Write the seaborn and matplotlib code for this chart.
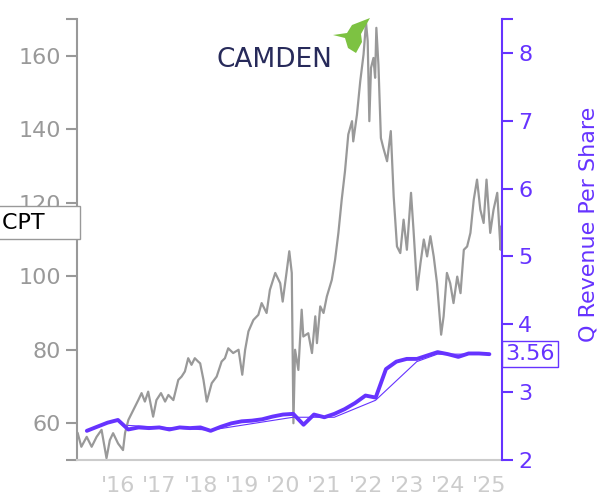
import matplotlib
matplotlib.use("Agg")
import matplotlib.pyplot as plt
from matplotlib.patches import Polygon
import seaborn as sns
import pandas as pd

# price (decimal year, close)
price_t = [2015.02, 2015.11, 2015.24, 2015.36, 2015.48, 2015.60, 2015.72, 2015.80, 2015.88, 2016.00,
           2016.12, 2016.17, 2016.25, 2016.37, 2016.49, 2016.57, 2016.65, 2016.73, 2016.85, 2016.93,
           2017.04, 2017.14, 2017.22, 2017.34, 2017.46, 2017.54, 2017.62, 2017.70, 2017.78, 2017.86,
           2017.94, 2017.99, 2018.07, 2018.15, 2018.27, 2018.39, 2018.51, 2018.59, 2018.67, 2018.79,
           2018.92, 2019.01, 2019.08, 2019.16, 2019.28, 2019.40, 2019.48, 2019.60, 2019.68, 2019.81,
           2019.93, 2019.99, 2020.07, 2020.15, 2020.21, 2020.25, 2020.29, 2020.37, 2020.45, 2020.49,
           2020.61, 2020.70, 2020.78, 2020.82, 2020.90, 2020.98, 2021.06, 2021.18, 2021.26, 2021.34,
           2021.42, 2021.50, 2021.58, 2021.67, 2021.70, 2021.79, 2021.87, 2021.95, 2022.01, 2022.05,
           2022.09, 2022.13, 2022.19, 2022.23, 2022.26, 2022.31, 2022.37, 2022.43, 2022.52, 2022.61,
           2022.68, 2022.76, 2022.84, 2022.92, 2023.00, 2023.10, 2023.16, 2023.25, 2023.33, 2023.41,
           2023.49, 2023.57, 2023.65, 2023.73, 2023.83, 2023.89, 2023.97, 2024.05, 2024.13, 2024.22,
           2024.30, 2024.38, 2024.46, 2024.54, 2024.62, 2024.70, 2024.78, 2024.86, 2024.93, 2025.02,
           2025.10, 2025.19, 2025.27, 2025.29]
price = [57.4, 53.6, 56.3, 53.6, 56.3, 58.2, 50.5, 55.4, 57.3, 54.5,
         52.7, 57.4, 60.9, 63.6, 66.3, 68.2, 65.9, 68.6, 61.8, 66.3,
         68.2, 65.9, 67.7, 66.3, 71.8, 72.7, 74.1, 77.7, 75.9, 77.7,
         76.8, 76.3, 71.8, 65.9, 70.9, 72.7, 76.8, 77.7, 80.4, 79.1,
         80.0, 73.2, 80.0, 85.0, 88.1, 89.5, 92.7, 90.0, 96.3, 100.9,
         98.1, 93.1, 99.9, 106.8, 100.9, 60.0, 80.0, 74.5, 90.9, 83.6,
         84.5, 79.1, 89.1, 81.8, 91.8, 90.0, 94.5, 99.0, 104.5, 111.8,
         120.8, 128.6, 138.6, 142.2, 136.7, 144.0, 153.1, 160.4, 169.0, 164.0,
         142.2, 156.7, 159.4, 154.0, 167.6, 157.6, 137.6, 134.9, 131.3, 139.5,
         121.7, 108.1, 106.3, 115.4, 107.2, 122.7, 112.7, 96.3, 103.6, 110.0,
         105.4, 110.9, 105.4, 98.1, 84.1, 89.1, 100.9, 98.1, 92.7, 99.9,
         95.4, 107.2, 108.1, 111.8, 120.8, 126.3, 118.1, 114.5, 126.3, 111.8,
         118.1, 122.7, 107.2, 113.6]

# quarterly revenue per share, 2015 Q1 .. 2024 Q4
quarters = pd.period_range("2015Q1", "2024Q4", freq="Q")
rev = [2.43, 2.49, 2.55, 2.59, 2.45, 2.48, 2.47, 2.48, 2.45, 2.48,
       2.47, 2.48, 2.43, 2.49, 2.54, 2.57, 2.58, 2.60, 2.64, 2.67,
       2.68, 2.52, 2.67, 2.63, 2.68, 2.75, 2.84, 2.95, 2.92, 3.34,
       3.45, 3.49, 3.49, 3.54, 3.59, 3.56, 3.52, 3.57, 3.57, 3.56]

# thin companion line
thin_t = [2016.24, 2018.24, 2020.24, 2021.24, 2022.24, 2023.24, 2023.74, 2025.0]
thin = [2.51, 2.44, 2.63, 2.63, 2.88, 3.45, 3.56, 3.56]

year_ticks = list(range(2015, 2026))
year_labels = [""] + ["'%02d" % (y % 100) for y in year_ticks[1:]]

PURPLE = "#6633ff"
GRAY = "#999999"
LIGHT = "#cccccc"

q_t = [p.end_time.year + (p.end_time.dayofyear - 1) / 365.25 for p in quarters]

sns.set_style("white")
plt.rcParams["font.family"] = ["DejaVu Sans"]

fig = plt.figure(figsize=(6, 5), dpi=100)
ax = fig.add_axes([0.128, 0.08, 0.709, 0.882])
ax2 = ax.twinx()

sns.lineplot(x=price_t, y=price, ax=ax, color=GRAY, lw=1.6)
sns.lineplot(x=thin_t, y=thin, ax=ax2, color=PURPLE, lw=0.8)
sns.lineplot(x=q_t, y=rev, ax=ax2, color=PURPLE, lw=2.8)

ax.set_xlim(2015.0, 2025.31)
ax.set_ylim(50, 170)
ax2.set_ylim(2, 8.5)

ax.set_xticks(year_ticks)
ax.set_xticklabels(year_labels)
left_ticks = [50, 60, 80, 100, 120, 140, 160, 170]
ax.set_yticks(left_ticks)
ax.set_yticklabels(["" if v in (50, 170) else str(v) for v in left_ticks])
ax2.set_yticks([2, 3, 4, 5, 6, 7, 8, 8.5])
ax2.set_yticklabels(["2", "3", "4", "5", "6", "7", "8", ""])

for s in ["top", "right"]:
    ax.spines[s].set_visible(False)
ax.spines["left"].set_color(GRAY)
ax.spines["bottom"].set_color(LIGHT)
for s in ["top", "left", "bottom"]:
    ax2.spines[s].set_visible(False)
ax2.spines["right"].set_color(PURPLE)
ax.spines["left"].set_linewidth(1.5)
ax.spines["bottom"].set_linewidth(1.5)
ax2.spines["right"].set_linewidth(1.5)

ax.tick_params(axis="y", colors=GRAY, labelsize=16, length=8, width=1.5)
ax.tick_params(axis="x", colors=LIGHT, labelsize=16, length=8, width=1.5)
ax2.tick_params(axis="y", colors=PURPLE, labelsize=16, length=8, width=1.5)
ax2.set_ylabel("Q Revenue Per Share", color=PURPLE, fontsize=16)
ax2.yaxis.set_label_coords(1.18, 0.535)
ax.set_xlabel("")
ax.set_ylabel("")

ax.annotate("CPT    ", xy=(0.003, price[-1] + 1), xycoords=("figure fraction", "data"),
            va="center", ha="left", fontsize=16, color="black",
            bbox=dict(boxstyle="square,pad=0.3", fc="white", ec=GRAY, lw=1))
ax2.annotate("%.2f" % rev[-1], xy=(1.0, rev[-1]), xycoords=("axes fraction", "data"),
             xytext=(2, 0), textcoords="offset points", va="center", ha="left",
             fontsize=16, color=PURPLE,
             bbox=dict(boxstyle="square,pad=0.15", fc="white", ec=PURPLE, lw=1))

# logo
fig.text(0.457, 0.866, "CAMDEN", fontsize=19, color="#272a5a", ha="center", va="baseline")
bird = [(333, 35), (347, 33), (352, 25), (370, 18), (361, 34), (362, 42), (356, 53), (348, 48), (345, 38)]
fig.patches.append(Polygon([(x / 600, 1 - y / 500) for x, y in bird], closed=True,
                           transform=fig.transFigure, fc="#7dc242", ec="none"))

plt.savefig("out.png", dpi=100)
